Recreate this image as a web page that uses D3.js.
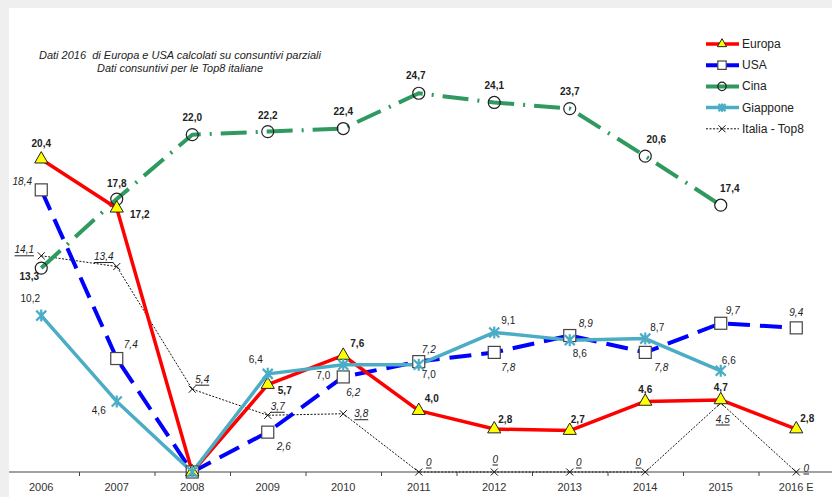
<!DOCTYPE html>
<html>
<head>
<meta charset="utf-8">
<script src="https://cdn.jsdelivr.net/npm/d3@7.9.0/dist/d3.min.js"></script>
<style>
  html, body { margin: 0; padding: 0; background: #efefef; }
  svg { display: block; font-family: "Liberation Sans", Arial, sans-serif; }
  .note { white-space: pre; }
</style>
</head>
<body>
<svg id="chart" width="832" height="497"></svg>
<script>
const years = ['2006', '2007', '2008', '2009', '2010', '2011', '2012', '2013', '2014', '2015', '2016 E'];

const europa    = [20.4, 17.2, 0, 5.7, 7.6, 4.0, 2.8, 2.7, 4.6, 4.7, 2.8];
const usa       = [18.4, 7.4, 0, 2.6, 6.2, 7.2, 7.8, 8.9, 7.8, 9.7, 9.4];
const cina      = [13.3, 17.8, 22.0, 22.2, 22.4, 24.7, 24.1, 23.7, 20.6, 17.4, null];
const giappone  = [10.2, 4.6, 0, 6.4, 7.0, 7.0, 9.1, 8.6, 8.7, 6.6, null];
const italia    = [14.1, 13.4, 5.4, 3.7, 3.8, 0, 0, 0, 0, 4.5, 0];

const noteLines = [
  'Dati 2016  di Europa e USA calcolati su consuntivi parziali',
  'Dati consuntivi per le Top8 italiane'
];

// label offsets (dx, dy) from each point; null = no label
const europaLabels = [[0,-16],[23,6],null,[17,6],[14,-12],[13,-12],[11,-10],[8,-11],[0,-12],[0,-12],[11,-11]];
const usaLabels = [[-19,-8],[14,-14],null,[16,14],[10,16],[10,-12],[14,15],[16,-12],[16,15],[12,-13],[0,-15]];
const cinaLabels = [[-12,8],[0,-16],[0,-17],[0,-16],[0,-17],[-3,-18],[0,-17],[0,-17],[11,-17],[9,-17],null];
const giapLabels = [[-11,-17],[-18,9],null,[-12,-14],[-20,11],[10,10],[14,-12],[10,13],[12,-11],[8,-10],null];
const italiaLabels = [[-17,-6],[-13,-10],[10,-10],[10,-9],[18,0],[10,-10],[1,-13],[9,-10],[-7,-10],[2,16],[10,-4]];

const svg = d3.select('#chart');

// white chart panel on grey frame
svg.append('rect').attr('x', 9).attr('y', 8).attr('width', 823).attr('height', 489).attr('fill', '#fff');

const x = d3.scaleBand().domain(years).range([3.5, 834]).paddingInner(0).paddingOuter(0);
const y = d3.scaleLinear().domain([0, 30]).range([472, 12]);
const cx = d => x(d) + x.bandwidth() / 2;

// axis
const axisG = svg.append('g').attr('transform', 'translate(0,472)');
axisG.append('line').attr('x1', 9).attr('x2', 832).attr('stroke', '#444').attr('stroke-width', 1);
years.slice(1).forEach(yr => {
  axisG.append('line').attr('x1', x(yr) + 0.5).attr('x2', x(yr) + 0.5)
    .attr('y1', 0).attr('y2', 4).attr('stroke', '#444');
});
axisG.selectAll('text.tick').data(years).join('text')
  .attr('x', d => cx(d)).attr('y', 19)
  .attr('text-anchor', 'middle').attr('font-size', 11).attr('fill', '#333')
  .text(d => d);

// note
svg.append('text').attr('class', 'note').attr('x', 39).attr('y', 59).attr('font-size', 10.5).attr('font-style', 'italic')
  .attr('fill', '#222').attr('textLength', 282).attr('lengthAdjust', 'spacingAndGlyphs').text(noteLines[0]);
svg.append('text').attr('class', 'note').attr('x', 97).attr('y', 72).attr('font-size', 10.5).attr('font-style', 'italic')
  .attr('fill', '#222').attr('textLength', 166).attr('lengthAdjust', 'spacingAndGlyphs').text(noteLines[1]);

const fmt = v => v === 0 ? '0' : d3.format('.1f')(v).replace('.', ',');

const markers = {
  triangle: (g, k = 1) => g.append('path').attr('d', d3.symbol(d3.symbolTriangle, 75 * k * k)())
    .attr('fill', '#ffff00').attr('stroke', '#222').attr('stroke-width', 1),
  square: (g, k = 1) => g.append('rect').attr('x', -6 * k).attr('y', -6 * k).attr('width', 12 * k).attr('height', 12 * k)
    .attr('fill', '#fff').attr('stroke', '#444').attr('stroke-width', 1.2),
  circle: (g, k = 1) => g.append('circle').attr('r', 6 * k).attr('fill', 'none').attr('stroke', '#222').attr('stroke-width', 1.2),
  star: (g, k = 1) => g.append('path').attr('d', `M${-5*k},${-5*k}L${5*k},${5*k}M${-5*k},${5*k}L${5*k},${-5*k}M0,${-6*k}L0,${6*k}`)
    .attr('stroke', '#4bacc6').attr('stroke-width', 2.2).attr('fill', 'none'),
  cross: (g, k = 1) => g.append('path').attr('d', 'M-3.5,-3.5L3.5,3.5M-3.5,3.5L3.5,-3.5')
    .attr('stroke', '#111').attr('stroke-width', 1).attr('fill', 'none')
};

const series = [
  { name: 'Italia - Top8', values: italia, labels: italiaLabels, color: '#111', width: 1, dash: '2,1.5', marker: 'cross',
    font: { style: 'italic', weight: 'normal', underline: true } },
  { name: 'Cina', values: cina, labels: cinaLabels, color: '#2f9960', width: 4, dash: '26,9,2,9', marker: 'circle',
    font: { style: 'normal', weight: 'bold' } },
  { name: 'USA', values: usa, labels: usaLabels, color: '#0000ff', width: 4, dash: '22,10', marker: 'square',
    font: { style: 'italic', weight: 'normal' } },
  { name: 'Europa', values: europa, labels: europaLabels, color: '#ff0000', width: 3.5, dash: null, marker: 'triangle',
    font: { style: 'normal', weight: 'bold' } },
  { name: 'Giappone', values: giappone, labels: giapLabels, color: '#4bacc6', width: 3.5, dash: null, marker: 'star',
    font: { style: 'normal', weight: 'normal' } }
];

const line = d3.line()
  .defined(d => d.v != null)
  .x(d => cx(d.year))
  .y(d => y(d.v));

// lines first, then each series' markers on top in the same order
series.forEach(s => {
  const pts = years.map((yr, i) => ({ year: yr, v: s.values[i], lab: s.labels[i] }));
  svg.append('path').datum(pts)
    .attr('d', line)
    .attr('fill', 'none')
    .attr('stroke', s.color)
    .attr('stroke-width', s.width)
    .attr('stroke-linejoin', 'round')
    .attr('stroke-dasharray', s.dash);
  s.pts = pts;
});

series.forEach(s => {
  s.pts.filter(d => d.v != null).forEach(d => {
    const g = svg.append('g').attr('transform', `translate(${cx(d.year)},${y(d.v)})`);
    markers[s.marker](g);
  });
});

series.forEach(s => {
  s.pts.filter(d => d.v != null && d.lab).forEach(d => {
    svg.append('text')
      .attr('x', cx(d.year) + d.lab[0])
      .attr('y', y(d.v) + d.lab[1])
      .attr('text-anchor', 'middle')
      .attr('dominant-baseline', 'central')
      .attr('font-size', 10)
      .attr('font-style', s.font.style)
      .attr('font-weight', s.font.weight)
      .attr('text-decoration', s.font.underline ? 'underline' : null)
      .attr('fill', '#222')
      .text(fmt(d.v));
  });
});

// legend
const legendOrder = ['Europa', 'USA', 'Cina', 'Giappone', 'Italia - Top8'];
const legend = svg.append('g');
legendOrder.forEach((name, i) => {
  const s = series.find(d => d.name === name);
  const ly = 44 + i * 21.2;
  const g = legend.append('g').attr('transform', `translate(0,${ly})`);
  g.append('line').attr('x1', 706).attr('x2', 739)
    .attr('stroke', s.color).attr('stroke-width', s.width)
    .attr('stroke-dasharray', s.name === 'Italia - Top8' ? '2,1.5' : null);
  markers[s.marker](g.append('g').attr('transform', 'translate(722,0)'), 0.7);
  g.append('text').attr('x', 742).attr('y', 0).attr('dominant-baseline', 'central')
    .attr('font-size', 12).attr('fill', '#222').text(name);
});
</script>
</body>
</html>
